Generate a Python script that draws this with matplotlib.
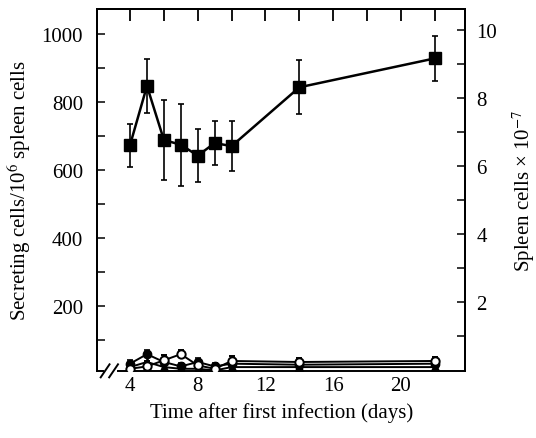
import matplotlib
matplotlib.use("Agg")
import matplotlib.pyplot as plt
import matplotlib.transforms as mtransforms
from matplotlib.ticker import MultipleLocator, FixedLocator

plt.rcParams['font.family'] = ['Liberation Serif', 'DejaVu Serif']
plt.rcParams['mathtext.fontset'] = 'stix'

days = [4, 5, 6, 7, 8, 9, 10, 14, 22]
main_vals = [673, 847, 688, 674, 642, 679, 670, 843, 928]
main_err = [63, 80, 119, 120, 78, 66, 74, 80, 67]

open_vals = [15, 22, 40, 58, 25, 15, 38, 35, 38]
open_err = [12, 15, 15, 12, 12, 10, 15, 12, 12]
filled_vals = [30, 58, 35, 22, 35, 22, 30, 27, 30]
filled_err = [12, 12, 12, 10, 12, 10, 10, 10, 10]
tri_vals = [20, 35, 20, 15, 15, 10, 20, 20, 20]

left_ticks = [200, 400, 600, 800, 1000]
right_ticks = [2, 4, 6, 8, 10]
x_ticks = [4, 8, 12, 16, 20]
x_top_ticks = [4, 6, 8, 10, 12, 14, 16, 18, 20, 22]

FS = 15

fig = plt.figure(figsize=(5.36, 4.39), dpi=100)
ax = fig.add_axes([0.181, 0.153, 0.687, 0.824])

ekw = dict(color='black', capsize=2.5, capthick=1.2, elinewidth=1.2)
ax.errorbar(days, main_vals, yerr=main_err, marker='s', ms=8, lw=1.8, **ekw)
ax.errorbar(days, filled_vals, yerr=[[0]*len(days), filled_err], marker='o', ms=6, lw=1.4, **ekw)
ax.errorbar(days, open_vals, yerr=[[0]*len(days), open_err], marker='o', ms=6, lw=1.4,
            mfc='white', mec='black', mew=1.4, **ekw)
ax.plot(days, tri_vals, color='black', lw=1.4, marker='^', ms=6)

ax.set_xlim(2.05, 23.8)
ax.set_ylim(9, 1073)

ax2 = ax.twinx()
ax2.set_ylim(-0.03, 10.6)
ax2.yaxis.set_major_locator(FixedLocator(right_ticks))
ax2.yaxis.set_minor_locator(FixedLocator([1, 3, 5, 7, 9]))
ax2.tick_params(axis='y', which='both', direction='in', length=6, width=1.1, labelsize=FS, pad=8)

ax.yaxis.set_major_locator(FixedLocator(left_ticks))
ax.yaxis.set_minor_locator(MultipleLocator(100))
ax.tick_params(axis='y', which='both', direction='in', length=6, width=1.1, labelsize=FS, pad=10)

ax.xaxis.set_major_locator(FixedLocator(x_ticks))
ax.tick_params(axis='x', which='both', direction='in', length=0, labelsize=FS, pad=4)

# top tick marks every 2 days (x in data, y in axes coordinates), drawn on the twin axes
trans = mtransforms.blended_transform_factory(ax2.transData, ax2.transAxes)
ax2.vlines(x_top_ticks, 0.967, 1.0, transform=trans, colors='black', lw=1.3,
           clip_on=False, zorder=10)

for a in (ax, ax2):
    for s in a.spines.values():
        s.set_linewidth(1.4)
    a.spines['bottom'].set_visible(False)

# broken bottom axis
lw = 1.4
ax.plot([0, 0.016], [0, 0], transform=ax.transAxes, color='black', lw=lw, clip_on=False)
ax.plot([0.057, 1], [0, 0], transform=ax.transAxes, color='black', lw=lw, clip_on=False)
for xb in (0.022, 0.045):
    ax.plot([xb - 0.012, xb + 0.012], [-0.018, 0.018], transform=ax.transAxes,
            color='black', lw=lw, clip_on=False)

ax.set_xlabel('Time after first infection (days)', fontsize=FS, labelpad=5)
ax.set_ylabel('Secreting cells/10$^6$ spleen cells', fontsize=FS, labelpad=6)
ax2.set_ylabel('Spleen cells × 10$^{-7}$', fontsize=FS, labelpad=10)

fig.savefig('out.png', dpi=100)
